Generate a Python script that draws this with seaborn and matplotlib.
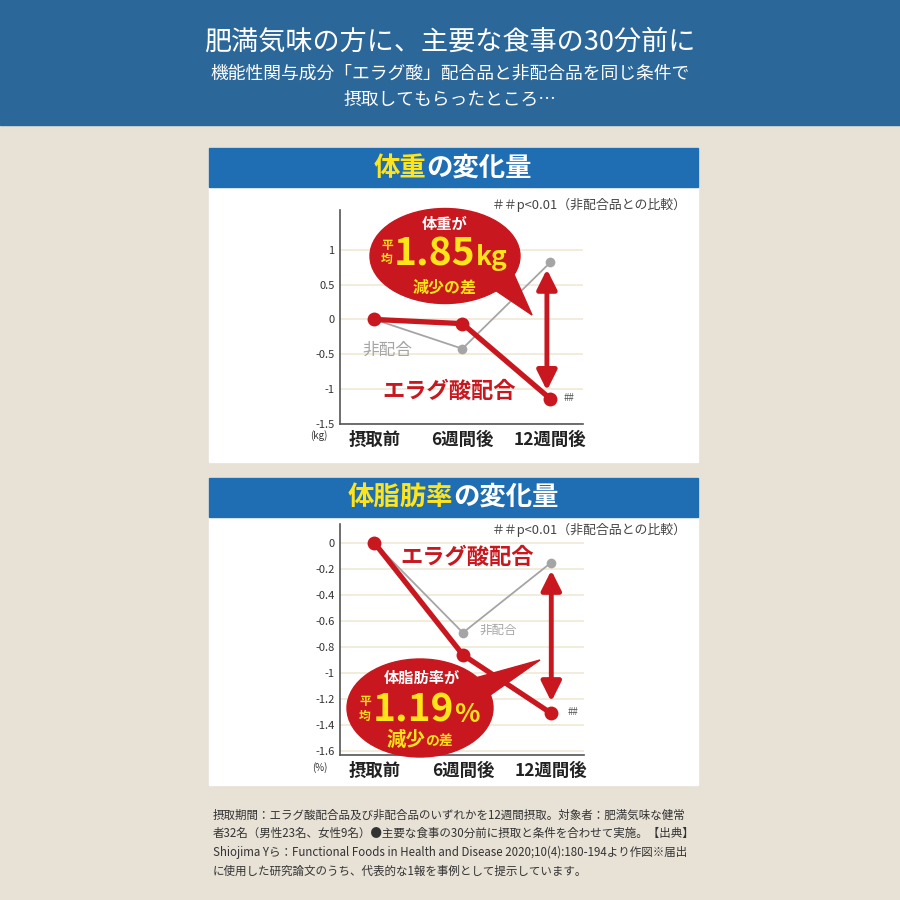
# Import libraries
import numpy as np
import matplotlib.pyplot as plt
import seaborn as sns
from matplotlib.patches import Rectangle, Ellipse, Polygon

sns.set_style("white")
plt.rcParams['font.family'] = ['Noto Sans CJK JP', 'DejaVu Sans']

# data
weeks = ['摂取前', '6週間後', '12週間後']
weight_ellagic = [0.0, -0.06, -1.14]
weight_placebo = [0.0, -0.42, 0.82]
fat_ellagic = [0.0, -0.86, -1.31]
fat_placebo = [0.0, -0.69, -0.15]

weight_ticks = [-1.5, -1, -0.5, 0, 0.5, 1]
weight_ticklabels = ['-1.5', '-1', '-0.5', '0', '0.5', '1']
fat_ticks = [-1.6, -1.4, -1.2, -1, -0.8, -0.6, -0.4, -0.2, 0]
fat_ticklabels = ['-1.6', '-1.4', '-1.2', '-1', '-0.8', '-0.6', '-0.4', '-0.2', '0']

header = ['肥満気味の方に、主要な食事の30分前に',
          '機能性関与成分「エラグ酸」配合品と非配合品を同じ条件で',
          '摂取してもらったところ…']
footer = ['摂取期間：エラグ酸配合品及び非配合品のいずれかを12週間摂取。対象者：肥満気味な健常',
          '者32名（男性23名、女性9名）●主要な食事の30分前に摂取と条件を合わせて実施。【出典】',
          'Shiojima Yら：Functional Foods in Health and Disease 2020;10(4):180-194より作図※届出',
          'に使用した研究論文のうち、代表的な1報を事例として提示しています。']

RED = '#c8171e'
GRAY = '#a5a5a5'
YELLOW = '#ffe419'
BLUE_TOP = '#2c6799'
BLUE_BAR = '#1f6db3'

fig = plt.figure(figsize=(9, 9), dpi=100)
renderer = fig.canvas.get_renderer()


def row(ax, x, y, parts):
    # put text pieces one after another starting at x (pixel coords)
    for s, size, color in parts:
        t = ax.text(x, y, s, fontsize=size, weight='bold', color=color, ha='left', va='baseline')
        x += t.get_window_extent(renderer).width


# background layer in pixel coords
bg = fig.add_axes([0, 0, 1, 1], zorder=0)
bg.set_xlim(0, 900)
bg.set_ylim(900, 0)
bg.axis('off')
bg.add_patch(Rectangle((0, 0), 900, 900, color='#e7e1d6'))
bg.add_patch(Rectangle((0, 0), 900, 125, color=BLUE_TOP))
bg.text(450, 42, header[0], color='white', fontsize=19.5, ha='center', va='center')
bg.text(450, 74, header[1], color='white', fontsize=12.8, ha='center', va='center')
bg.text(450, 100, header[2], color='white', fontsize=12.8, ha='center', va='center')

# white panels with blue title bars
for top, bottom in [(148, 462), (478, 785)]:
    bg.add_patch(Rectangle((209, top), 489, bottom - top, color='white'))
    bg.add_patch(Rectangle((209, top), 489, 39, color=BLUE_BAR))


def title(y, yellow_part, white_part):
    t = bg.text(0, y, yellow_part, color=YELLOW, fontsize=19, weight='bold', va='center')
    t2 = bg.text(0, y, white_part, color='white', fontsize=19, weight='bold', va='center')
    w1 = t.get_window_extent(renderer).width
    w2 = t2.get_window_extent(renderer).width
    x0 = 453 - (w1 + w2) / 2
    t.set_x(x0)
    t2.set_x(x0 + w1)


title(168, '体重', 'の変化量')
title(497, '体脂肪率', 'の変化量')

bg.text(687, 205, '＃＃p<0.01（非配合品との比較）', fontsize=9.3, color='#444444', ha='right', va='center')
bg.text(687, 530, '＃＃p<0.01（非配合品との比較）', fontsize=9.3, color='#444444', ha='right', va='center')

# footer notes
for i, line in enumerate(footer):
    bg.text(213, 815 + i * 18.7, line, fontsize=8.3, color='#333333', ha='left', va='center')


def px_axes(left, right, top, bottom):
    return fig.add_axes([left / 900, 1 - bottom / 900, (right - left) / 900, (bottom - top) / 900], zorder=1)


def draw_chart(ax, ellagic, placebo, ticks, ticklabels, ylim, unit):
    x = np.arange(len(weeks))
    ax.set_facecolor('none')
    for t in ticks:
        ax.axhline(t, color='#efe9d6', lw=1.2, zorder=0)
    sns.lineplot(x=x, y=placebo, ax=ax, color=GRAY, lw=1.3, marker='o', markersize=7,
                 markeredgewidth=0, zorder=2)
    sns.lineplot(x=x, y=ellagic, ax=ax, color=RED, lw=3.8, marker='o', markersize=10,
                 markeredgewidth=0, zorder=3)
    ax.set_xlim(-0.39, 2.37)
    ax.set_ylim(*ylim)
    ax.set_yticks(ticks)
    ax.set_yticklabels(ticklabels, fontsize=8, color='#333333')
    ax.set_xticks(x)
    ax.set_xticklabels(weeks, fontsize=12.5, weight='bold', color='#222222')
    ax.tick_params(axis='x', direction='in', length=7, width=1, color='#666666', pad=5)
    ax.tick_params(axis='y', length=0, pad=4)
    for s in ['top', 'right']:
        ax.spines[s].set_visible(False)
    for s in ['left', 'bottom']:
        ax.spines[s].set_color('#555555')
        ax.spines[s].set_linewidth(1.2)
    ax.text(-0.05, -0.055, unit, transform=ax.transAxes, fontsize=7, color='#333333',
            ha='right', va='center')


arrow_style = dict(arrowstyle='<|-|>,head_length=1.2,head_width=0.6', color=RED, lw=3.5,
                   shrinkA=0, shrinkB=0)

# 体重 chart
ax1 = px_axes(340, 583, 210, 424)
draw_chart(ax1, weight_ellagic, weight_placebo, weight_ticks, weight_ticklabels, (-1.5, 1.57), '(kg)')
ax1.annotate('', xy=(1.96, -1.02), xytext=(1.96, 0.72), arrowprops=arrow_style)
ax1.text(0.15, -0.45, '非配合', fontsize=12, color=GRAY, ha='center', va='center')
ax1.text(0.85, -1.03, 'エラグ酸配合', fontsize=16, weight='bold', color=RED, ha='center', va='center')
ax1.text(2.15, -1.12, '##', fontsize=7, color='#555555', ha='left', va='center')

# 体脂肪率 chart
ax2 = px_axes(340, 584, 524, 755)
draw_chart(ax2, fat_ellagic, fat_placebo, fat_ticks, fat_ticklabels, (-1.63, 0.146), '(%)')
ax2.annotate('', xy=(2.0, -1.22), xytext=(2.0, -0.21), arrowprops=arrow_style)
ax2.text(1.4, -0.67, '非配合', fontsize=9, color=GRAY, ha='center', va='center')
ax2.text(1.05, -0.11, 'エラグ酸配合', fontsize=16, weight='bold', color=RED, ha='center', va='center')
ax2.text(2.18, -1.3, '##', fontsize=7, color='#555555', ha='left', va='center')

# speech bubbles on top
ov = fig.add_axes([0, 0, 1, 1], zorder=3)
ov.set_xlim(0, 900)
ov.set_ylim(900, 0)
ov.axis('off')
ov.patch.set_alpha(0)

ov.add_patch(Polygon([(486, 284), (512, 270), (532, 315)], closed=True, color=RED))
ov.add_patch(Ellipse((445, 256), 150, 95, color=RED))
ov.text(445, 224, '体重が', fontsize=11, weight='bold', color='white', ha='center', va='center')
ov.text(387, 245, '平', fontsize=8.5, weight='bold', color=YELLOW, ha='center', va='center')
ov.text(387, 259, '均', fontsize=8.5, weight='bold', color=YELLOW, ha='center', va='center')
row(ov, 394, 265, [('1.85', 28, YELLOW), ('kg', 19, YELLOW)])
ov.text(445, 288, '減少の差', fontsize=11.5, weight='bold', color=YELLOW, ha='center', va='center')

ov.add_patch(Polygon([(468, 680), (486, 698), (540, 660)], closed=True, color=RED))
ov.add_patch(Ellipse((420, 708), 146, 98, color=RED))
ov.text(422, 678, '体脂肪率が', fontsize=11, weight='bold', color='white', ha='center', va='center')
ov.text(365, 702, '平', fontsize=8.5, weight='bold', color=YELLOW, ha='center', va='center')
ov.text(365, 716, '均', fontsize=8.5, weight='bold', color=YELLOW, ha='center', va='center')
row(ov, 373, 722, [('1.19', 28, YELLOW), ('%', 19, YELLOW)])
row(ov, 386, 746, [('減少', 14, YELLOW), ('の差', 10, YELLOW)])

fig.savefig('out.png', dpi=100)
